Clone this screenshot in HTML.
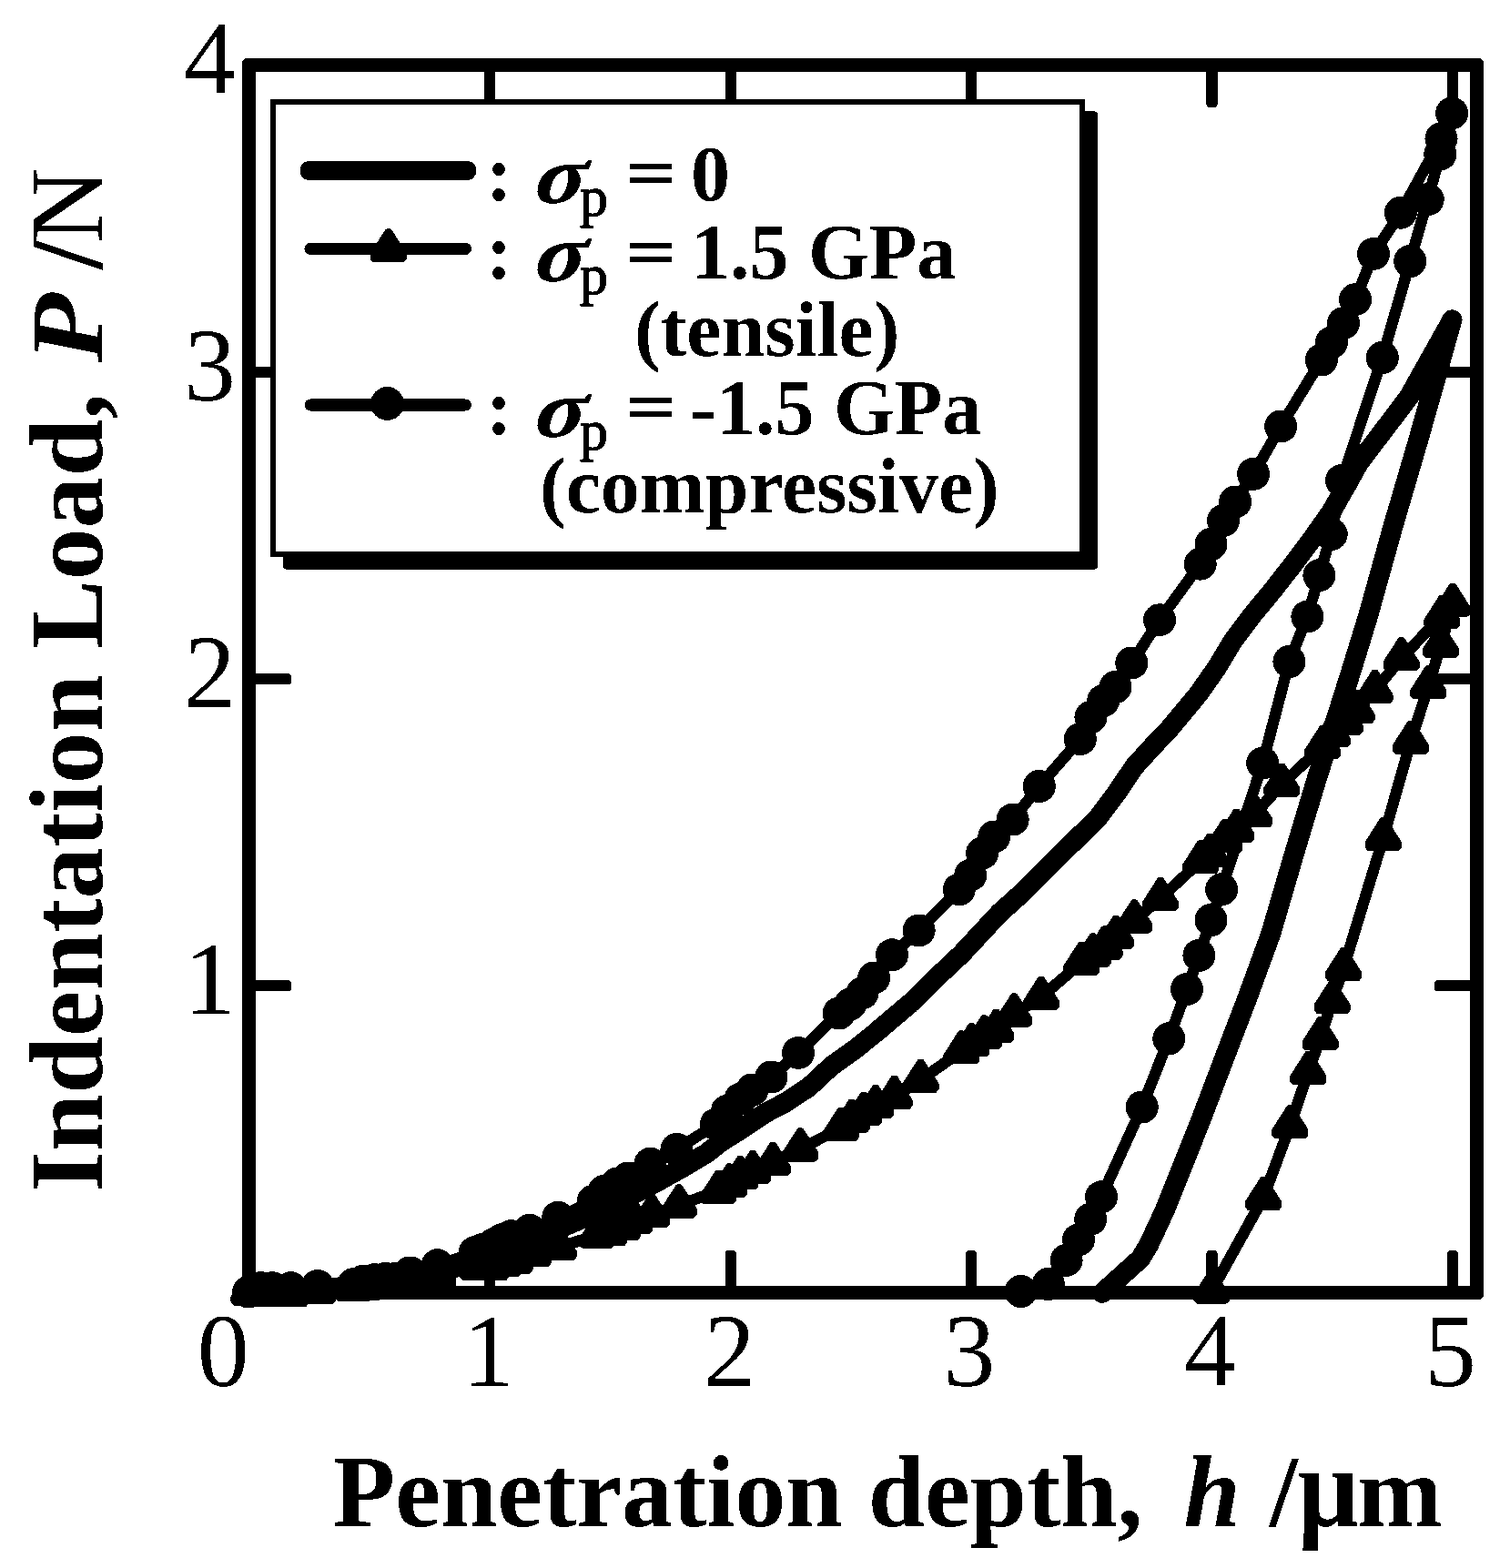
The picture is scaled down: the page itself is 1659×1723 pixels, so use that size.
<!DOCTYPE html>
<html lang="en">
<head>
<meta charset="utf-8">
<title>Indentation Load vs Penetration depth</title>
<style>
html,body{margin:0;padding:0;background:#fff;}
body{width:1659px;height:1723px;overflow:hidden;}
svg{display:block;}
text{font-family:"Liberation Serif","DejaVu Serif",serif;fill:#000;}
.b{font-weight:bold;}
.i{font-style:italic;}
</style>
</head>
<body>
<svg width="1659" height="1723" viewBox="0 0 1659 1723">
<defs>
<filter id="bin" filterUnits="userSpaceOnUse" x="0" y="0" width="1659" height="1723" color-interpolation-filters="sRGB">
<feComponentTransfer><feFuncR type="discrete" tableValues="0 1"/><feFuncG type="discrete" tableValues="0 1"/><feFuncB type="discrete" tableValues="0 1"/></feComponentTransfer>
</filter>
</defs>
<g id="figure" filter="url(#bin)">
<rect x="0" y="0" width="1659" height="1723" fill="#fff"/>
<g id="ticks" fill="#000">
<rect x="532.0" y="1374" width="12" height="45" rx="3.5"/>
<rect x="532.0" y="73" width="12" height="45" rx="3.5"/>
<rect x="796.8" y="1374" width="12" height="45" rx="3.5"/>
<rect x="796.8" y="73" width="12" height="45" rx="3.5"/>
<rect x="1061.0" y="1374" width="12" height="45" rx="3.5"/>
<rect x="1061.0" y="73" width="12" height="45" rx="3.5"/>
<rect x="1325.5" y="1374" width="12" height="45" rx="3.5"/>
<rect x="1325.5" y="73" width="12" height="45" rx="3.5"/>
<rect x="1590.0" y="1374" width="12" height="45" rx="3.5"/>
<rect x="1590.0" y="73" width="12" height="45" rx="3.5"/>
<rect x="275" y="1077.2" width="45" height="12" rx="3.5"/>
<rect x="1576" y="1077.2" width="45" height="12" rx="3.5"/>
<rect x="275" y="740.0" width="45" height="12" rx="3.5"/>
<rect x="1576" y="740.0" width="45" height="12" rx="3.5"/>
<rect x="275" y="402.8" width="45" height="12" rx="3.5"/>
<rect x="1576" y="402.8" width="45" height="12" rx="3.5"/>
</g>
<g id="legend">
<rect x="311" y="122.5" width="895" height="503" rx="3" fill="#000"/>
<rect x="300" y="112" width="889" height="497" fill="#fff" stroke="#000" stroke-width="6"/>
<rect x="330" y="177" width="193" height="21" rx="9" fill="#000"/>
<line x1="341" y1="273.3" x2="511.5" y2="273.3" stroke="#000" stroke-width="13" stroke-linecap="round"/>
<path transform="translate(426.8,274.2)" d="M-2.3 -21.8 L2.3 -21.8 L19 4.3 L19 10.3 L16.4 13.1 L-16.4 13.1 L-19 10.3 L-19 4.3 Z" fill="#000" stroke="#000" stroke-width="2" stroke-linejoin="round"/>
<line x1="341" y1="445" x2="511.5" y2="445" stroke="#000" stroke-width="13" stroke-linecap="round"/>
<circle cx="425.5" cy="443.5" r="18.5" fill="#000"/>
<text class="b" font-size="86" x="534" y="220.2">:</text><text class="b" font-size="86" transform="translate(581.6,222.7) scale(1.19,1.06) skewX(-15)">σ</text><text class="b" font-size="86" x="637" y="236.9"><tspan font-weight="normal" font-size="62" stroke="#000" stroke-width="1.3">p</tspan> <tspan font-size="75.2" stroke="#000" stroke-width="1.2" x="687.8" y="216.3" textLength="55.3" lengthAdjust="spacingAndGlyphs">=</tspan> <tspan x="758.9" y="220.2">0</tspan></text>
<text class="b" font-size="86" x="534" y="306.4">:</text><text class="b" font-size="86" transform="translate(581.6,308.9) scale(1.19,1.06) skewX(-15)">σ</text><text class="b" font-size="86" x="637" y="323.1"><tspan font-weight="normal" font-size="62" stroke="#000" stroke-width="1.3">p</tspan> <tspan font-size="75.2" stroke="#000" stroke-width="1.2" x="687.8" y="302.5" textLength="55.3" lengthAdjust="spacingAndGlyphs">=</tspan> <tspan x="758.9" y="306.4">1.5 GPa</tspan></text>
<text class="b" font-size="86" x="697" y="391.0">(tensile)</text>
<text class="b" font-size="86" x="534" y="477.1">:</text><text class="b" font-size="86" transform="translate(581.6,479.6) scale(1.19,1.06) skewX(-15)">σ</text><text class="b" font-size="86" x="637" y="493.8"><tspan font-weight="normal" font-size="62" stroke="#000" stroke-width="1.3">p</tspan> <tspan font-size="75.2" stroke="#000" stroke-width="1.2" x="687.8" y="473.2" textLength="55.3" lengthAdjust="spacingAndGlyphs">=</tspan> <tspan x="758.3" y="477.1">-1.5 GPa</tspan></text>
<text class="b" font-size="86" x="593" y="562.7">(compressive)</text>
</g>
<path id="frame" fill="#000" fill-rule="evenodd" d="M271 64 H1625 A5 5 0 0 1 1630 69 V1423 A5 5 0 0 1 1625 1428 H271 A5 5 0 0 1 266 1423 V69 A5 5 0 0 1 271 64 Z M281 79 V1413 H1615 V79 Z"/>
<g id="curves" fill="#000">
<path d="M273.5 1420.5 L286.7 1420.4 L299.9 1420.1 L313.2 1419.5 L326.4 1418.8 L339.6 1417.9 L352.9 1416.7 L366.1 1415.3 L379.3 1413.7 L392.5 1411.9 L405.8 1409.9 L419.0 1407.7 L432.2 1405.2 L445.4 1402.6 L458.6 1399.7 L471.9 1396.7 L485.1 1393.4 L498.3 1389.9 L511.6 1386.2 L524.8 1382.2 L538.0 1378.1 L551.2 1373.8 L564.5 1369.2 L577.7 1364.4 L590.9 1359.5 L604.1 1354.3 L617.4 1348.9 L630.6 1343.2 L643.8 1337.4 L657.0 1331.4 L670.2 1325.1 L683.5 1318.7 L696.7 1312.0 L709.9 1305.1 L723.2 1298.0 L736.4 1290.7 L749.6 1283.1 L762.8 1275.4 L776.0 1267.5 L792.9 1254.4 L817.0 1239.2 L841.1 1223.0 L865.2 1210.2 L889.3 1194.1 L913.4 1171.5 L937.6 1154.3 L961.7 1135.0 L1000.0 1102.5 L1022.9 1079.8 L1056.7 1048.0 L1098.0 1003.5 L1124.2 980.0 L1150.2 954.1 L1176.2 928.1 L1205.9 899.1 L1227.6 870.2 L1245.7 843.0 L1265.2 821.5 L1285.1 800.5 L1316.7 762.5 L1336.9 733.6 L1354.3 704.7 L1376.0 675.7 L1399.9 646.8 L1422.3 617.9 L1444.0 588.9 L1463.5 561.0 L1492.8 508.8 L1547.8 436.4 L1595.3 351.5" fill="none" stroke="#000" stroke-width="22" stroke-linecap="round" stroke-linejoin="round"/>
<path d="M1595.3 351.5 L1578.4 412.3 L1557.9 484.7 L1529.7 581.1 L1502.9 677.6 L1484.4 737.8 L1471.0 780.0 L1446.4 856.7 L1421.0 941.1 L1396.4 1025.5 L1370.0 1097.8 L1353.0 1142.0 L1318.5 1232.9 L1280.0 1329.3 L1262.0 1368.0 L1253.0 1383.0 L1210.8 1421.0" fill="none" stroke="#000" stroke-width="22" stroke-linecap="round" stroke-linejoin="round"/>
<path d="M273.1 1419.6 L286.3 1415.2 L299.0 1415.2 L319.5 1415.2 L349.0 1413.0 L388.3 1411.2 L399.7 1407.4 L411.7 1406.2 L423.8 1405.0 L435.8 1404.4 L450.5 1398.5 L480.6 1390.3 L521.6 1376.3 L529.7 1373.2 L543.3 1366.7 L551.4 1362.3 L561.4 1358.3 L581.9 1351.8 L613.2 1337.8 L651.8 1319.7 L663.9 1308.8 L678.3 1300.4 L690.4 1294.4 L714.5 1278.7 L743.4 1263.0 L786.8 1235.3 L798.9 1220.8 L813.4 1207.6 L826.5 1197.5 L847.4 1183.5 L877.0 1156.9 L921.6 1113.5 L934.3 1103.3 L947.5 1091.2 L960.2 1074.4 L980.0 1049.3 L1009.6 1022.4 L1053.8 977.3 L1066.3 961.6 L1079.1 937.5 L1092.3 919.4 L1112.6 900.6 L1141.8 864.0 L1186.8 812.1 L1198.4 788.0 L1212.2 769.9 L1225.5 755.0 L1243.3 728.5 L1274.1 681.2 L1318.7 619.7 L1330.5 598.0 L1344.0 572.2 L1357.1 551.5 L1377.1 520.8 L1407.2 468.5 L1451.8 395.5 L1462.8 376.4 L1476.0 355.2 L1489.1 329.2 L1509.0 278.9 L1538.9 233.7 L1583.5 152.3 L1595.1 124.3" fill="none" stroke="#000" stroke-width="12.5" stroke-linecap="round" stroke-linejoin="round"/>
<path d="M1595.1 124.3 L1582.3 169.5 L1568.7 219.2 L1549.2 287.0 L1518.8 393.0 L1474.0 528.1 L1462.7 587.1 L1449.4 632.2 L1436.4 677.6 L1416.4 727.0 L1387.2 838.6 L1342.1 977.3 L1330.5 1011.0 L1317.4 1049.8 L1304.0 1087.0 L1284.3 1141.3 L1254.7 1216.5 L1210.0 1315.3 L1198.2 1339.7 L1185.0 1362.3 L1171.6 1384.8 L1151.8 1411.0 L1121.7 1419.0" fill="none" stroke="#000" stroke-width="12.5" stroke-linecap="round" stroke-linejoin="round"/>
<path d="M273.5 1420.5 L286.3 1421.5 L299.0 1421.6 L319.5 1421.6 L349.0 1418.6 L388.3 1416.0 L399.7 1415.0 L411.7 1414.0 L423.8 1413.0 L435.8 1411.5 L450.5 1408.0 L481.3 1401.0 L525.3 1393.0 L539.5 1392.6 L552.8 1389.0 L565.5 1385.3 L585.5 1377.8 L613.7 1370.6 L655.9 1357.3 L669.2 1354.9 L683.6 1348.9 L696.9 1341.6 L716.2 1334.4 L745.9 1324.3 L789.3 1308.6 L801.3 1301.4 L813.4 1292.9 L827.0 1286.9 L849.2 1277.8 L879.3 1262.3 L923.5 1240.0 L935.7 1230.5 L948.8 1222.7 L962.0 1214.8 L982.6 1204.6 L1011.5 1186.6 L1056.3 1155.2 L1067.4 1147.0 L1081.4 1138.4 L1094.4 1131.6 L1114.2 1114.3 L1143.8 1095.8 L1188.1 1057.5 L1200.7 1048.4 L1213.5 1040.4 L1226.0 1028.8 L1246.3 1011.3 L1275.0 987.0 L1319.0 946.2 L1329.2 938.5 L1345.4 923.0 L1358.4 911.7 L1378.0 895.2 L1408.4 861.5 L1453.1 820.0 L1463.9 807.2 L1477.7 793.3 L1490.6 780.6 L1510.5 758.9 L1539.6 723.1 L1584.4 676.7 L1596.0 663.5" fill="none" stroke="#000" stroke-width="12.5" stroke-linecap="round" stroke-linejoin="round"/>
<path d="M1596.0 663.5 L1583.0 708.8 L1569.3 754.2 L1550.0 814.6 L1519.8 920.9 L1476.0 1064.1 L1463.6 1099.8 L1450.7 1140.1 L1437.4 1177.9 L1417.4 1237.0 L1388.0 1316.1 L1331.3 1418.3" fill="none" stroke="#000" stroke-width="12.5" stroke-linecap="round" stroke-linejoin="round"/>
<circle cx="273.1" cy="1419.6" r="18"/>
<circle cx="286.3" cy="1415.2" r="18"/>
<circle cx="299.0" cy="1415.2" r="18"/>
<circle cx="319.5" cy="1415.2" r="18"/>
<circle cx="349.0" cy="1413.0" r="18"/>
<circle cx="388.3" cy="1411.2" r="18"/>
<circle cx="399.7" cy="1407.4" r="18"/>
<circle cx="411.7" cy="1406.2" r="18"/>
<circle cx="423.8" cy="1405.0" r="18"/>
<circle cx="435.8" cy="1404.4" r="18"/>
<circle cx="450.5" cy="1398.5" r="18"/>
<circle cx="480.6" cy="1390.3" r="18"/>
<circle cx="521.6" cy="1376.3" r="18"/>
<circle cx="529.7" cy="1373.2" r="18"/>
<circle cx="543.3" cy="1366.7" r="18"/>
<circle cx="551.4" cy="1362.3" r="18"/>
<circle cx="561.4" cy="1358.3" r="18"/>
<circle cx="581.9" cy="1351.8" r="18"/>
<circle cx="613.2" cy="1337.8" r="18"/>
<circle cx="651.8" cy="1319.7" r="18"/>
<circle cx="663.9" cy="1308.8" r="18"/>
<circle cx="678.3" cy="1300.4" r="18"/>
<circle cx="690.4" cy="1294.4" r="18"/>
<circle cx="714.5" cy="1278.7" r="18"/>
<circle cx="743.4" cy="1263.0" r="18"/>
<circle cx="786.8" cy="1235.3" r="18"/>
<circle cx="798.9" cy="1220.8" r="18"/>
<circle cx="813.4" cy="1207.6" r="18"/>
<circle cx="826.5" cy="1197.5" r="18"/>
<circle cx="847.4" cy="1183.5" r="18"/>
<circle cx="877.0" cy="1156.9" r="18"/>
<circle cx="921.6" cy="1113.5" r="18"/>
<circle cx="934.3" cy="1103.3" r="18"/>
<circle cx="947.5" cy="1091.2" r="18"/>
<circle cx="960.2" cy="1074.4" r="18"/>
<circle cx="980.0" cy="1049.3" r="18"/>
<circle cx="1009.6" cy="1022.4" r="18"/>
<circle cx="1053.8" cy="977.3" r="18"/>
<circle cx="1066.3" cy="961.6" r="18"/>
<circle cx="1079.1" cy="937.5" r="18"/>
<circle cx="1092.3" cy="919.4" r="18"/>
<circle cx="1112.6" cy="900.6" r="18"/>
<circle cx="1141.8" cy="864.0" r="18"/>
<circle cx="1186.8" cy="812.1" r="18"/>
<circle cx="1198.4" cy="788.0" r="18"/>
<circle cx="1212.2" cy="769.9" r="18"/>
<circle cx="1225.5" cy="755.0" r="18"/>
<circle cx="1243.3" cy="728.5" r="18"/>
<circle cx="1274.1" cy="681.2" r="18"/>
<circle cx="1318.7" cy="619.7" r="18"/>
<circle cx="1330.5" cy="598.0" r="18"/>
<circle cx="1344.0" cy="572.2" r="18"/>
<circle cx="1357.1" cy="551.5" r="18"/>
<circle cx="1377.1" cy="520.8" r="18"/>
<circle cx="1407.2" cy="468.5" r="18"/>
<circle cx="1451.8" cy="395.5" r="18"/>
<circle cx="1462.8" cy="376.4" r="18"/>
<circle cx="1476.0" cy="355.2" r="18"/>
<circle cx="1489.1" cy="329.2" r="18"/>
<circle cx="1509.0" cy="278.9" r="18"/>
<circle cx="1538.9" cy="233.7" r="18"/>
<circle cx="1583.5" cy="152.3" r="18"/>
<circle cx="1595.1" cy="124.3" r="18"/>
<circle cx="1582.3" cy="169.5" r="18"/>
<circle cx="1568.7" cy="219.2" r="18"/>
<circle cx="1549.2" cy="287.0" r="18"/>
<circle cx="1518.8" cy="393.0" r="18"/>
<circle cx="1474.0" cy="528.1" r="18"/>
<circle cx="1462.7" cy="587.1" r="18"/>
<circle cx="1449.4" cy="632.2" r="18"/>
<circle cx="1436.4" cy="677.6" r="18"/>
<circle cx="1416.4" cy="727.0" r="18"/>
<circle cx="1387.2" cy="838.6" r="18"/>
<circle cx="1342.1" cy="977.3" r="18"/>
<circle cx="1330.5" cy="1011.0" r="18"/>
<circle cx="1317.4" cy="1049.8" r="18"/>
<circle cx="1304.0" cy="1087.0" r="18"/>
<circle cx="1284.3" cy="1141.3" r="18"/>
<circle cx="1254.7" cy="1216.5" r="18"/>
<circle cx="1210.0" cy="1315.3" r="18"/>
<circle cx="1198.2" cy="1339.7" r="18"/>
<circle cx="1185.0" cy="1362.3" r="18"/>
<circle cx="1171.6" cy="1384.8" r="18"/>
<circle cx="1151.8" cy="1411.0" r="18"/>
<circle cx="1121.7" cy="1419.0" r="18"/>
<path d="M271.2 1398.7 275.8 1398.7 292.5 1424.8 292.5 1430.8 289.9 1433.6 257.1 1433.6 254.5 1430.8 254.5 1424.8ZM284.0 1399.7 288.6 1399.7 305.3 1425.8 305.3 1431.8 302.7 1434.6 269.9 1434.6 267.3 1431.8 267.3 1425.8ZM296.7 1399.8 301.3 1399.8 318.0 1425.9 318.0 1431.9 315.4 1434.7 282.6 1434.7 280.0 1431.9 280.0 1425.9ZM317.2 1399.8 321.8 1399.8 338.5 1425.9 338.5 1431.9 335.9 1434.7 303.1 1434.7 300.5 1431.9 300.5 1425.9ZM346.7 1396.8 351.3 1396.8 368.0 1422.9 368.0 1428.9 365.4 1431.7 332.6 1431.7 330.0 1428.9 330.0 1422.9ZM386.0 1394.2 390.6 1394.2 407.3 1420.3 407.3 1426.3 404.7 1429.1 371.9 1429.1 369.3 1426.3 369.3 1420.3ZM397.4 1393.2 402.0 1393.2 418.7 1419.3 418.7 1425.3 416.1 1428.1 383.3 1428.1 380.7 1425.3 380.7 1419.3ZM409.4 1392.2 414.0 1392.2 430.7 1418.3 430.7 1424.3 428.1 1427.1 395.3 1427.1 392.7 1424.3 392.7 1418.3ZM421.5 1391.2 426.1 1391.2 442.8 1417.3 442.8 1423.3 440.2 1426.1 407.4 1426.1 404.8 1423.3 404.8 1417.3ZM433.5 1389.7 438.1 1389.7 454.8 1415.8 454.8 1421.8 452.2 1424.6 419.4 1424.6 416.8 1421.8 416.8 1415.8ZM448.2 1386.2 452.8 1386.2 469.5 1412.3 469.5 1418.3 466.9 1421.1 434.1 1421.1 431.5 1418.3 431.5 1412.3ZM479.0 1379.2 483.6 1379.2 500.3 1405.3 500.3 1411.3 497.7 1414.1 464.9 1414.1 462.3 1411.3 462.3 1405.3ZM523.0 1371.2 527.6 1371.2 544.3 1397.3 544.3 1403.3 541.7 1406.1 508.9 1406.1 506.3 1403.3 506.3 1397.3ZM537.2 1370.8 541.8 1370.8 558.5 1396.9 558.5 1402.9 555.9 1405.7 523.1 1405.7 520.5 1402.9 520.5 1396.9ZM550.5 1367.2 555.1 1367.2 571.8 1393.3 571.8 1399.3 569.2 1402.1 536.4 1402.1 533.8 1399.3 533.8 1393.3ZM563.2 1363.5 567.8 1363.5 584.5 1389.6 584.5 1395.6 581.9 1398.4 549.1 1398.4 546.5 1395.6 546.5 1389.6ZM583.2 1356.0 587.8 1356.0 604.5 1382.1 604.5 1388.1 601.9 1390.9 569.1 1390.9 566.5 1388.1 566.5 1382.1ZM611.4 1348.8 616.0 1348.8 632.7 1374.9 632.7 1380.9 630.1 1383.7 597.3 1383.7 594.7 1380.9 594.7 1374.9ZM653.6 1335.5 658.2 1335.5 674.9 1361.6 674.9 1367.6 672.3 1370.4 639.5 1370.4 636.9 1367.6 636.9 1361.6ZM666.9 1333.1 671.5 1333.1 688.2 1359.2 688.2 1365.2 685.6 1368.0 652.8 1368.0 650.2 1365.2 650.2 1359.2ZM681.3 1327.1 685.9 1327.1 702.6 1353.2 702.6 1359.2 700.0 1362.0 667.2 1362.0 664.6 1359.2 664.6 1353.2ZM694.6 1319.8 699.2 1319.8 715.9 1345.9 715.9 1351.9 713.3 1354.7 680.5 1354.7 677.9 1351.9 677.9 1345.9ZM713.9 1312.6 718.5 1312.6 735.2 1338.7 735.2 1344.7 732.6 1347.5 699.8 1347.5 697.2 1344.7 697.2 1338.7ZM743.6 1302.5 748.2 1302.5 764.9 1328.6 764.9 1334.6 762.3 1337.4 729.5 1337.4 726.9 1334.6 726.9 1328.6ZM787.0 1286.8 791.6 1286.8 808.3 1312.9 808.3 1318.9 805.7 1321.7 772.9 1321.7 770.3 1318.9 770.3 1312.9ZM799.0 1279.6 803.6 1279.6 820.3 1305.7 820.3 1311.7 817.7 1314.5 784.9 1314.5 782.3 1311.7 782.3 1305.7ZM811.1 1271.1 815.7 1271.1 832.4 1297.2 832.4 1303.2 829.8 1306.0 797.0 1306.0 794.4 1303.2 794.4 1297.2ZM824.7 1265.1 829.3 1265.1 846.0 1291.2 846.0 1297.2 843.4 1300.0 810.6 1300.0 808.0 1297.2 808.0 1291.2ZM846.9 1256.0 851.5 1256.0 868.2 1282.1 868.2 1288.1 865.6 1290.9 832.8 1290.9 830.2 1288.1 830.2 1282.1ZM877.0 1240.5 881.6 1240.5 898.3 1266.6 898.3 1272.6 895.7 1275.4 862.9 1275.4 860.3 1272.6 860.3 1266.6ZM921.2 1218.2 925.8 1218.2 942.5 1244.3 942.5 1250.3 939.9 1253.1 907.1 1253.1 904.5 1250.3 904.5 1244.3ZM933.4 1208.7 938.0 1208.7 954.7 1234.8 954.7 1240.8 952.1 1243.6 919.3 1243.6 916.7 1240.8 916.7 1234.8ZM946.5 1200.9 951.1 1200.9 967.8 1227.0 967.8 1233.0 965.2 1235.8 932.4 1235.8 929.8 1233.0 929.8 1227.0ZM959.7 1193.0 964.3 1193.0 981.0 1219.1 981.0 1225.1 978.4 1227.9 945.6 1227.9 943.0 1225.1 943.0 1219.1ZM980.3 1182.8 984.9 1182.8 1001.6 1208.9 1001.6 1214.9 999.0 1217.7 966.2 1217.7 963.6 1214.9 963.6 1208.9ZM1009.2 1164.8 1013.8 1164.8 1030.5 1190.9 1030.5 1196.9 1027.9 1199.7 995.1 1199.7 992.5 1196.9 992.5 1190.9ZM1054.0 1133.4 1058.6 1133.4 1075.3 1159.5 1075.3 1165.5 1072.7 1168.3 1039.9 1168.3 1037.3 1165.5 1037.3 1159.5ZM1065.1 1125.2 1069.7 1125.2 1086.4 1151.3 1086.4 1157.3 1083.8 1160.1 1051.0 1160.1 1048.4 1157.3 1048.4 1151.3ZM1079.1 1116.6 1083.7 1116.6 1100.4 1142.7 1100.4 1148.7 1097.8 1151.5 1065.0 1151.5 1062.4 1148.7 1062.4 1142.7ZM1092.1 1109.8 1096.7 1109.8 1113.4 1135.9 1113.4 1141.9 1110.8 1144.7 1078.0 1144.7 1075.4 1141.9 1075.4 1135.9ZM1111.9 1092.5 1116.5 1092.5 1133.2 1118.6 1133.2 1124.6 1130.6 1127.4 1097.8 1127.4 1095.2 1124.6 1095.2 1118.6ZM1141.5 1074.0 1146.1 1074.0 1162.8 1100.1 1162.8 1106.1 1160.2 1108.9 1127.4 1108.9 1124.8 1106.1 1124.8 1100.1ZM1185.8 1035.7 1190.4 1035.7 1207.1 1061.8 1207.1 1067.8 1204.5 1070.6 1171.7 1070.6 1169.1 1067.8 1169.1 1061.8ZM1198.4 1026.6 1203.0 1026.6 1219.7 1052.7 1219.7 1058.7 1217.1 1061.5 1184.3 1061.5 1181.7 1058.7 1181.7 1052.7ZM1211.2 1018.6 1215.8 1018.6 1232.5 1044.7 1232.5 1050.7 1229.9 1053.5 1197.1 1053.5 1194.5 1050.7 1194.5 1044.7ZM1223.7 1007.0 1228.3 1007.0 1245.0 1033.1 1245.0 1039.1 1242.4 1041.9 1209.6 1041.9 1207.0 1039.1 1207.0 1033.1ZM1244.0 989.5 1248.6 989.5 1265.3 1015.6 1265.3 1021.6 1262.7 1024.4 1229.9 1024.4 1227.3 1021.6 1227.3 1015.6ZM1272.7 965.2 1277.3 965.2 1294.0 991.3 1294.0 997.3 1291.4 1000.1 1258.6 1000.1 1256.0 997.3 1256.0 991.3ZM1316.7 924.4 1321.3 924.4 1338.0 950.5 1338.0 956.5 1335.4 959.3 1302.6 959.3 1300.0 956.5 1300.0 950.5ZM1326.9 916.7 1331.5 916.7 1348.2 942.8 1348.2 948.8 1345.6 951.6 1312.8 951.6 1310.2 948.8 1310.2 942.8ZM1343.1 901.2 1347.7 901.2 1364.4 927.3 1364.4 933.3 1361.8 936.1 1329.0 936.1 1326.4 933.3 1326.4 927.3ZM1356.1 889.9 1360.7 889.9 1377.4 916.0 1377.4 922.0 1374.8 924.8 1342.0 924.8 1339.4 922.0 1339.4 916.0ZM1375.7 873.4 1380.3 873.4 1397.0 899.5 1397.0 905.5 1394.4 908.3 1361.6 908.3 1359.0 905.5 1359.0 899.5ZM1406.1 839.7 1410.7 839.7 1427.4 865.8 1427.4 871.8 1424.8 874.6 1392.0 874.6 1389.4 871.8 1389.4 865.8ZM1450.8 798.2 1455.4 798.2 1472.1 824.3 1472.1 830.3 1469.5 833.1 1436.7 833.1 1434.1 830.3 1434.1 824.3ZM1461.6 785.4 1466.2 785.4 1482.9 811.5 1482.9 817.5 1480.3 820.3 1447.5 820.3 1444.9 817.5 1444.9 811.5ZM1475.4 771.5 1480.0 771.5 1496.7 797.6 1496.7 803.6 1494.1 806.4 1461.3 806.4 1458.7 803.6 1458.7 797.6ZM1488.3 758.8 1492.9 758.8 1509.6 784.9 1509.6 790.9 1507.0 793.7 1474.2 793.7 1471.6 790.9 1471.6 784.9ZM1508.2 737.1 1512.8 737.1 1529.5 763.2 1529.5 769.2 1526.9 772.0 1494.1 772.0 1491.5 769.2 1491.5 763.2ZM1537.3 701.3 1541.9 701.3 1558.6 727.4 1558.6 733.4 1556.0 736.2 1523.2 736.2 1520.6 733.4 1520.6 727.4ZM1582.1 654.9 1586.7 654.9 1603.4 681.0 1603.4 687.0 1600.8 689.8 1568.0 689.8 1565.4 687.0 1565.4 681.0ZM1593.7 641.7 1598.3 641.7 1615.0 667.8 1615.0 673.8 1612.4 676.6 1579.6 676.6 1577.0 673.8 1577.0 667.8Z" fill="#000" stroke="#000" stroke-width="2" stroke-linejoin="round"/>
<path d="M1580.7 687.0 1585.3 687.0 1602.0 713.1 1602.0 719.1 1599.4 721.9 1566.6 721.9 1564.0 719.1 1564.0 713.1ZM1567.0 732.4 1571.6 732.4 1588.3 758.5 1588.3 764.5 1585.7 767.3 1552.9 767.3 1550.3 764.5 1550.3 758.5ZM1547.7 792.8 1552.3 792.8 1569.0 818.9 1569.0 824.9 1566.4 827.7 1533.6 827.7 1531.0 824.9 1531.0 818.9ZM1517.5 899.1 1522.1 899.1 1538.8 925.2 1538.8 931.2 1536.2 934.0 1503.4 934.0 1500.8 931.2 1500.8 925.2ZM1473.7 1042.3 1478.3 1042.3 1495.0 1068.4 1495.0 1074.4 1492.4 1077.2 1459.6 1077.2 1457.0 1074.4 1457.0 1068.4ZM1461.3 1078.0 1465.9 1078.0 1482.6 1104.1 1482.6 1110.1 1480.0 1112.9 1447.2 1112.9 1444.6 1110.1 1444.6 1104.1ZM1448.4 1118.3 1453.0 1118.3 1469.7 1144.4 1469.7 1150.4 1467.1 1153.2 1434.3 1153.2 1431.7 1150.4 1431.7 1144.4ZM1435.1 1156.1 1439.7 1156.1 1456.4 1182.2 1456.4 1188.2 1453.8 1191.0 1421.0 1191.0 1418.4 1188.2 1418.4 1182.2ZM1415.1 1215.2 1419.7 1215.2 1436.4 1241.3 1436.4 1247.3 1433.8 1250.1 1401.0 1250.1 1398.4 1247.3 1398.4 1241.3ZM1385.7 1294.3 1390.3 1294.3 1407.0 1320.4 1407.0 1326.4 1404.4 1329.2 1371.6 1329.2 1369.0 1326.4 1369.0 1320.4ZM1329.0 1396.5 1333.6 1396.5 1350.3 1422.6 1350.3 1428.6 1347.7 1431.4 1314.9 1431.4 1312.3 1428.6 1312.3 1422.6Z" fill="#000" stroke="#000" stroke-width="2" stroke-linejoin="round"/>
</g>
<g id="ticklabels" font-size="114">
<text x="216.7" y="1522.5">0</text>
<text x="508.2" y="1522.5">1</text>
<text x="772.9" y="1522.5">2</text>
<text x="1036.5" y="1522.5">3</text>
<text x="1301.3" y="1522.5">4</text>
<text x="1565.0" y="1522.5">5</text>
<text x="202" y="1114.2">1</text>
<text x="202" y="777.0">2</text>
<text x="202" y="439.8">3</text>
<text x="202" y="102.5">4</text>
</g>
<text id="xlabel" class="b" font-size="112" x="365.8" y="1677">Penetration depth, <tspan class="i" x="1300.5">h</tspan> <tspan x="1394.8">/</tspan><tspan font-size="128.1" x="1426" textLength="66.3" lengthAdjust="spacingAndGlyphs">μ</tspan><tspan x="1491.2">m</tspan></text>
<g transform="translate(112.2,0) rotate(-90)">
<text id="ylabel" class="b" font-size="113.6" x="-1309.5" y="0">Indentation Load, <tspan class="i" font-size="114" x="-398.6" textLength="76.6" lengthAdjust="spacingAndGlyphs">P</tspan> <tspan font-size="114" x="-296">/</tspan><tspan font-weight="normal" font-size="114" x="-267">N</tspan></text>
</g>
</g>
</svg>
</body>
</html>
